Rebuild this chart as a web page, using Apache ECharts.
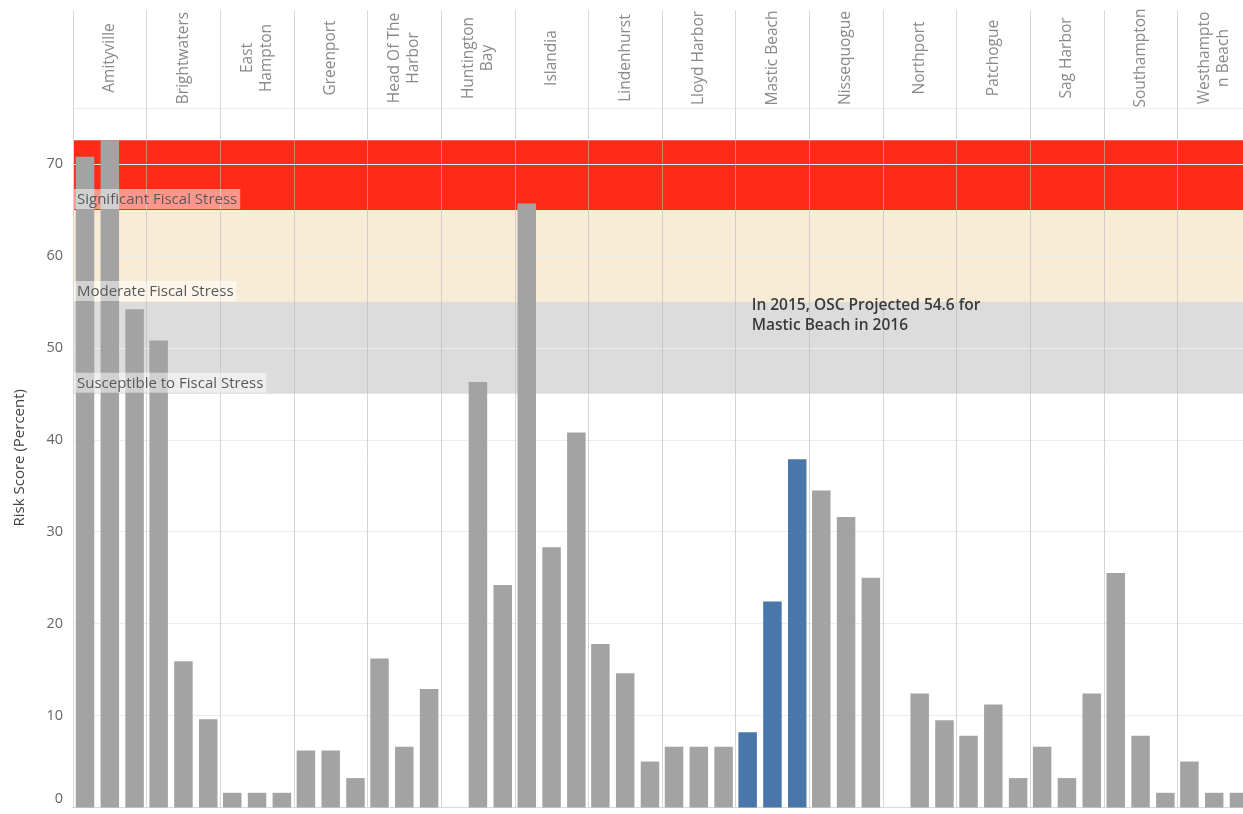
<!DOCTYPE html>
<html>
<head>
<meta charset="utf-8">
<script src="https://cdn.jsdelivr.net/npm/echarts@6/dist/echarts.min.js"></script>
<style>
  html, body { margin: 0; padding: 0; background: #ffffff; }
  #chart { width: 1243px; height: 814px; }
</style>
</head>
<body>
<div id="chart"></div>
<script>
// ---- data ----
const villages = ['Amityville','Brightwaters','East Hampton','Greenport','Head Of The Harbor','Huntington Bay','Islandia','Lindenhurst','Lloyd Harbor','Mastic Beach','Nissequogue','Northport','Patchogue','Sag Harbor','Southampton','Westhampton Beach'];
const headerLabels = ['Amityville','Brightwaters','East\nHampton','Greenport','Head Of The\nHarbor','Huntington\nBay','Islandia','Lindenhurst','Lloyd Harbor','Mastic Beach','Nissequogue','Northport','Patchogue','Sag Harbor','Southampton','Westhampto\nn Beach'];
const years = ['2013','2014','2015'];
const score2013 = [70.8, 50.8, 1.6, 6.2, 16.2, null, 65.7, 17.8, 6.6, 8.2, 34.5, null, 7.8, 6.6, 25.5, 5.0];
const score2014 = [72.6, 15.9, 1.6, 6.2, 6.6, 46.3, 28.3, 14.6, 6.6, 22.4, 31.6, 12.4, 11.2, 3.2, 7.8, 1.6];
const score2015 = [54.2, 9.6, 1.6, 3.2, 12.9, 24.2, 40.8, 5.0, 6.6, 37.9, 25.0, 9.5, 3.2, 12.4, 1.6, 1.6];
const highlightVillage = 'Mastic Beach';
const bandNames = ['Significant Fiscal Stress','Moderate Fiscal Stress','Susceptible to Fiscal Stress'];
const bandFrom = [65, 55, 45];
const bandTo = [72.6, 65, 55];
const bandColors = ['#ff2a17', '#f9ecd7', '#dcdcdc'];
const annotationText = 'In 2015, OSC Projected 54.6 for\nMastic Beach in 2016';
const annotationValue = 54.6;
const yTicks = [0, 10, 20, 30, 40, 50, 60, 70];

// ---- chart ----
const chart = echarts.init(document.getElementById('chart'), null, { renderer: 'canvas' });
const FONT = '"Open Sans", "DejaVu Sans", sans-serif';
const GRAY = '#a3a3a3';
const BLUE = '#4a77a9';
const VLINE = 'rgba(185,185,185,0.6)';
const LINE = '#d8d8d8';

const seriesData = [score2013, score2014, score2015];

const barSeries = years.map((yr, i) => ({
  name: yr,
  type: 'bar',
  xAxisIndex: 0,
  yAxisIndex: 0,
  z: 2,
  barWidth: 18.5,
  barGap: '34%',
  data: seriesData[i].map((v, k) => ({
    value: v,
    itemStyle: { color: villages[k] === highlightVillage ? BLUE : GRAY }
  })),
  emphasis: { disabled: true },
  markPoint: i === 0 ? {
    symbolSize: 0,
    silent: true,
    z: 6,
    data: [{
      coord: [highlightVillage, annotationValue],
      label: {
        show: true,
        formatter: annotationText,
        position: 'inside',
        align: 'left',
        verticalAlign: 'top',
        offset: [4, -10],
        color: '#3a3a3a',
        fontFamily: FONT,
        fontWeight: 600,
        fontSize: 15.5,
        lineHeight: 20
      }
    }]
  } : undefined
}));

const option = {
  backgroundColor: '#ffffff',
  animation: false,
  grid: [
    { left: 73, top: 108, width: 1178, height: 699.5, outerBoundsMode: 'none', containLabel: false },
    { left: 73, top: 10, width: 1178, height: 98, outerBoundsMode: 'none', containLabel: false }
  ],
  xAxis: [
    {
      type: 'category', gridIndex: 0, position: 'top', data: villages, z: 1,
      axisLine: { show: true, lineStyle: { color: LINE, width: 1 } },
      axisTick: { show: false },
      splitLine: { show: true, interval: 0, lineStyle: { color: VLINE, width: 1 } },
      axisLabel: {
        show: true, interval: 0, rotate: 90, margin: 50,
        align: 'center', verticalAlign: 'middle',
        color: '#8a8a8a', fontFamily: FONT, fontSize: 15.5, lineHeight: 19,
        formatter: (v) => headerLabels[villages.indexOf(v)]
      }
    },
    {
      type: 'category', gridIndex: 0, position: 'bottom', data: villages, z: 1,
      axisLine: { show: true, lineStyle: { color: LINE, width: 1 } },
      axisTick: { show: false }, axisLabel: { show: false }, splitLine: { show: false }
    },
    {
      type: 'category', gridIndex: 1, position: 'bottom', data: villages, z: 1,
      axisLine: { show: false }, axisTick: { show: false }, axisLabel: { show: false },
      splitLine: { show: true, interval: 0, lineStyle: { color: LINE, width: 1 } }
    }
  ],
  yAxis: [
    {
      type: 'value', gridIndex: 0, min: 0, max: 76.1, interval: 10, z: 1,
      name: 'Risk Score (Percent)', nameLocation: 'middle', nameGap: 46,
      nameTextStyle: { color: '#444', fontFamily: FONT, fontSize: 15 },
      axisLine: { show: true, lineStyle: { color: LINE, width: 1 } },
      axisTick: { show: false },
      splitLine: { show: true, lineStyle: { color: '#ececec', width: 1 } },
      axisLabel: {
        margin: 10, color: '#666', fontFamily: FONT, fontSize: 14.5,
        showMaxLabel: false,
        formatter: (v) => (yTicks.indexOf(v) < 0 ? '' : (v === 0 ? '{z|0}' : String(v))),
        rich: { z: { color: '#666', fontFamily: FONT, fontSize: 14.5, padding: [0, 0, 18, 0] } }
      }
    },
    {
      type: 'value', gridIndex: 1, min: 0, max: 1, show: false,
      splitLine: { show: false }
    }
  ],
  series: [
    {
      name: 'bands', type: 'line', xAxisIndex: 0, yAxisIndex: 0, z: 0, data: [],
      silent: true,
      markArea: {
        silent: true,
        z: 0,
        data: bandNames.map((n, i) => ([
          { yAxis: bandFrom[i], itemStyle: { color: bandColors[i], opacity: 1 } },
          { yAxis: bandTo[i] }
        ]))
      }
    },
    ...barSeries,
    {
      name: 'bandLabels', type: 'line', xAxisIndex: 0, yAxisIndex: 0, z: 3, data: [],
      silent: true,
      markLine: {
        silent: true, symbol: 'none', z: 5,
        lineStyle: { width: 0, color: 'rgba(0,0,0,0)', type: 'solid' },
        data: bandNames.map((n, i) => ({
          yAxis: bandFrom[i],
          label: {
            show: true, formatter: n, position: 'insideStartTop', distance: 1,
            color: '#595959', fontFamily: FONT, fontSize: 15, lineHeight: 19,
            backgroundColor: 'rgba(255,255,255,0.5)', padding: [1, 3, 0, 3]
          }
        }))
      }
    }
  ]
};
chart.setOption(option);
</script>
</body>
</html>
